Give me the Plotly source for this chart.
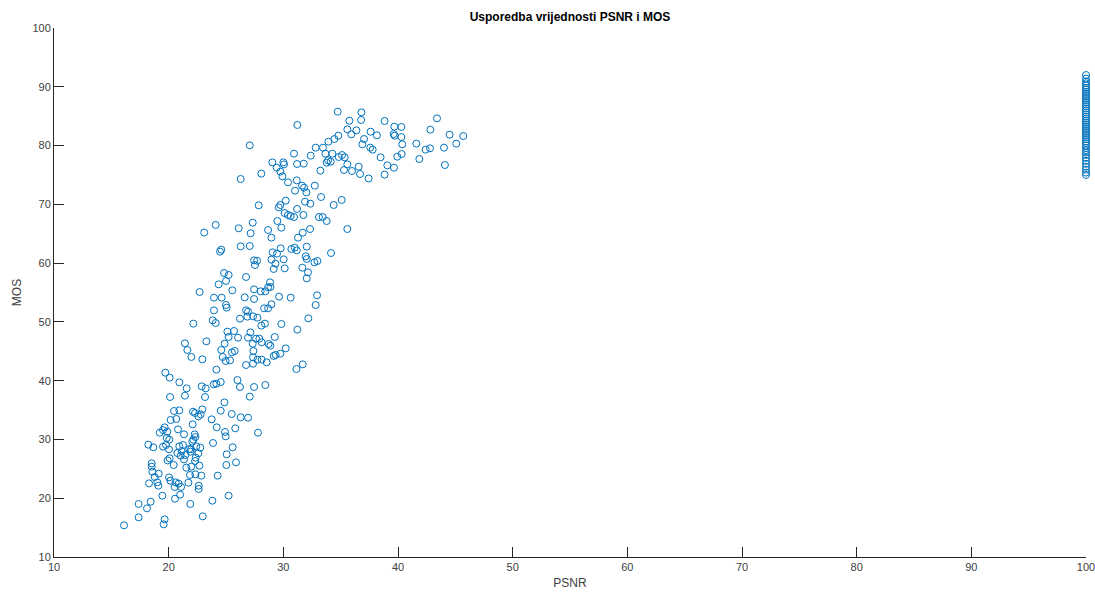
import plotly.graph_objects as go

# ---- data (PSNR, MOS), grouped by region ----
psnr_top = [38.83, 37.61, 38.16, 39.68, 40.29, 39.62, 39.71, 40.29, 40.37, 37.58,
            37.79, 38.48, 39.07, 39.65, 38.83, 37.44, 39.94, 40.32, 41.60, 41.86,
            42.41, 42.79, 43.40, 42.82, 44.50, 45.69, 45.08, 44.01, 44.09]
mos_top = [84.18, 82.36, 81.74, 83.21, 83.16, 81.96, 81.68, 81.45, 80.21, 79.64,
           79.30, 78.00, 76.63, 76.24, 75.05, 74.40, 78.11, 78.56, 80.32, 77.71,
           79.30, 79.53, 84.63, 82.70, 81.85, 81.62, 80.32, 79.64, 76.69]

psnr_upper = [34.74, 36.81, 35.76, 36.78, 31.22, 35.58, 36.37, 35.93, 37.04, 36.89,
              27.07, 34.80, 34.45, 33.93, 33.46, 32.82, 33.67, 34.28, 35.12, 35.35,
              34.83, 33.90, 34.13, 33.78, 35.58, 36.57, 35.29, 35.99, 36.69, 32.39,
              33.23, 30.93, 31.78, 31.20, 29.04, 29.42, 30.00, 30.06, 29.74, 29.92,
              30.41, 28.08, 26.28, 31.17, 31.63, 31.81, 32.01, 32.74, 31.02, 33.29,
              30.21, 29.74, 29.60, 31.89, 32.36, 31.20, 30.12, 30.41, 30.64, 30.93,
              31.75, 34.39, 35.09, 33.11, 33.43, 33.78, 27.85, 29.48, 29.83, 27.33,
              28.67, 27.15, 28.96, 26.11, 32.33, 31.69, 31.28, 35.58, 24.10, 23.10]
mos_upper = [85.76, 85.65, 84.23, 84.35, 83.50, 82.76, 82.59, 81.91, 81.11, 80.21,
             80.04, 81.68, 81.11, 80.66, 79.64, 79.64, 78.62, 78.62, 78.39, 78.00,
             78.05, 77.49, 77.26, 77.09, 76.80, 76.41, 75.84, 75.67, 75.16, 78.28,
             75.73, 78.62, 76.92, 76.86, 77.14, 76.24, 77.14, 76.80, 75.56, 74.76,
             73.74, 75.22, 74.31, 74.08, 73.17, 72.83, 72.04, 73.17, 72.32, 71.25,
             70.62, 69.89, 69.49, 70.45, 70.11, 69.21, 68.52, 68.18, 68.01, 67.84,
             68.18, 69.89, 70.74, 67.84, 67.84, 67.16, 69.83, 67.16, 66.03, 66.88,
             65.63, 65.07, 64.33, 65.92, 65.80, 65.18, 64.33, 65.80, 66.50, 65.20]

psnr_mid = [26.28, 27.07, 29.07, 29.45, 29.77, 30.70, 30.99, 31.17, 32.04, 31.95,
            32.04, 32.71, 32.97, 34.16, 31.66, 32.15, 32.04, 27.45, 27.71, 27.53,
            28.96, 29.16, 29.31, 30.12, 30.03, 26.75, 28.84, 28.87, 28.67, 27.45,
            28.03, 28.43, 26.63, 27.45, 29.63, 30.64, 32.94, 32.82, 28.96, 28.32,
            28.67, 26.75, 26.92, 26.86, 27.36, 27.74, 26.22, 28.08, 28.40, 29.83,
            31.22, 32.18, 27.13, 26.92, 27.62, 27.91, 26.05, 27.33, 28.11, 29.25,
            28.72, 28.87, 30.21, 29.74, 29.16, 29.33, 27.39, 27.36, 27.74, 28.11,
            27.36, 28.55, 26.75, 31.14, 31.69, 26.00, 26.22, 27.45, 28.43]
mos_mid = [62.85, 62.91, 61.83, 61.61, 62.51, 62.40, 62.63, 62.17, 62.80, 61.15,
           60.70, 60.13, 60.36, 61.72, 59.22, 58.43, 57.41, 60.47, 60.41, 59.68,
           60.58, 59.00, 59.90, 59.11, 60.64, 57.64, 56.73, 55.93, 55.88, 55.54,
           55.20, 55.20, 54.18, 53.89, 54.29, 54.12, 54.52, 52.87, 52.99, 52.31,
           52.31, 51.97, 51.74, 50.89, 50.94, 50.72, 50.55, 49.36, 49.70, 49.64,
           48.68, 50.60, 48.22, 47.31, 47.14, 47.14, 47.31, 46.29, 46.52, 47.43,
           46.24, 45.95, 45.50, 44.59, 44.20, 44.37, 45.05, 43.97, 43.57, 43.57,
           42.89, 43.12, 42.66, 41.98, 42.78, 40.10, 38.92, 38.92, 39.26]

psnr_left = [24.59, 24.48, 24.83, 25.23, 25.00, 24.36, 25.55, 22.70, 23.95, 24.62,
             25.00, 25.06, 23.95, 23.84, 24.10, 22.15, 25.12, 25.70, 25.23, 23.29,
             21.42, 21.63, 21.98, 24.88, 24.59, 24.71, 24.97, 25.35, 25.52, 25.76,
             22.94, 24.16, 19.71, 20.09, 20.93, 21.57, 22.88, 23.23, 23.93, 24.16,
             24.54]
mos_left = [62.29, 61.95, 58.32, 57.98, 56.96, 56.39, 55.37, 55.08, 54.12, 54.12,
            52.87, 52.42, 51.96, 50.26, 49.81, 49.70, 48.34, 48.45, 47.43, 46.69,
            46.35, 45.22, 44.03, 46.29, 45.22, 44.03, 43.35, 43.46, 44.82, 45.05,
            43.63, 41.87, 41.36, 40.51, 39.72, 38.69, 39.03, 38.69, 39.38, 39.49,
            39.77]

psnr_low = [20.12, 21.42, 23.17, 24.86, 25.50, 20.47, 20.93, 22.12, 22.30, 22.94,
            22.79, 22.59, 23.75, 24.54, 20.17, 20.67, 22.09, 19.65, 19.51, 19.88,
            20.81, 21.34, 19.22, 24.19, 24.91, 24.97, 25.81, 22.27, 22.33, 22.15,
            22.06, 19.83, 20.06, 19.51, 18.23, 18.66, 19.77, 20.03, 20.93, 21.25,
            21.95, 21.80, 21.13, 20.76, 21.05, 21.45, 21.92, 22.41, 22.76, 22.59,
            22.36, 21.34, 22.30, 21.98, 22.68, 23.87, 25.58, 25.06, 25.87, 25.03,
            19.91, 20.09, 20.44, 18.52, 18.52, 18.58, 18.78, 19.13, 18.29, 19.01,
            19.10, 20.03, 20.15, 20.61, 20.87, 21.08, 20.52, 21.72, 22.62, 22.62,
            21.54, 21.86, 22.33, 22.85, 24.27, 19.45, 21.00, 20.55, 21.89, 23.81,
            25.23, 17.38, 18.43, 18.11, 17.38, 19.65, 19.56, 16.11, 22.97, 27.07,
            26.28, 26.92, 27.79]
mos_low = [37.22, 37.45, 37.22, 36.31, 34.33, 34.84, 34.95, 34.72, 34.50, 35.12,
           34.27, 33.93, 33.42, 34.89, 33.31, 33.48, 32.57, 32.06, 31.60, 31.32,
           31.72, 30.87, 31.15, 32.06, 31.27, 30.53, 31.89, 30.87, 30.41, 29.96,
           29.62, 30.24, 29.96, 28.77, 29.11, 28.66, 29.05, 28.32, 28.83, 29.05,
           28.32, 28.37, 28.03, 27.69, 27.24, 27.35, 27.92, 28.83, 28.60, 27.64,
           26.90, 26.61, 26.33, 25.37, 25.54, 29.39, 28.66, 27.47, 26.10, 25.65,
           26.44, 26.79, 25.65, 25.93, 25.37, 24.52, 23.61, 24.18, 22.53, 22.70,
           22.13, 23.55, 22.99, 22.70, 22.48, 21.91, 21.91, 22.64, 22.13, 21.57,
           25.20, 23.95, 24.06, 23.84, 23.84, 20.43, 20.60, 19.92, 19.02, 19.58,
           20.43, 19.02, 19.41, 18.28, 16.75, 16.41, 15.56, 15.39, 16.92, 37.28,
           33.76, 33.70, 31.15]

# uncompressed references (PSNR capped at 100)
mos_ref = [92.0, 91.4, 90.9, 90.6, 90.2, 89.8, 89.5, 89.1, 88.8, 88.4,
           88.1, 87.7, 87.4, 87.0, 86.7, 86.3, 86.0, 85.6, 85.3, 84.9,
           84.6, 84.2, 83.9, 83.5, 83.2, 82.8, 82.5, 82.1, 81.8, 81.4,
           81.1, 80.7, 80.4, 80.0, 79.6, 79.2, 78.8, 78.4, 77.9, 77.4,
           76.9, 76.4, 75.9, 75.4, 75.0]
psnr_ref = [100.0] * len(mos_ref)

x_ticks = [10, 20, 30, 40, 50, 60, 70, 80, 90, 100]
y_ticks = [10, 20, 30, 40, 50, 60, 70, 80, 90, 100]

psnr = psnr_top + psnr_upper + psnr_mid + psnr_left + psnr_low + psnr_ref
mos = mos_top + mos_upper + mos_mid + mos_left + mos_low + mos_ref

axis_col = "#262626"
fnt = "Liberation Sans, Arial, Helvetica, sans-serif"

fig = go.Figure(go.Scatter(
    x=psnr, y=mos, mode="markers", cliponaxis=False,
    marker=dict(symbol="circle-open", size=7, color="#0072BD",
                line=dict(width=1, color="#0072BD")),
    hoverinfo="x+y",
))

fig.update_layout(
    width=1095, height=594,
    margin=dict(l=54, r=9, t=28, b=37),
    plot_bgcolor="white", paper_bgcolor="white",
    showlegend=False,
    font=dict(family=fnt, color=axis_col, size=11),
    title=dict(text="<b>Usporedba vrijednosti PSNR i MOS</b>",
               x=0.5, xref="paper", xanchor="center",
               y=1 - 17 / 594, yref="container", yanchor="middle",
               font=dict(size=12, color="#000000", family=fnt)),
    xaxis=dict(range=[10, 100], tickvals=x_ticks, ticktext=[str(v) for v in x_ticks],
               ticks="inside", ticklen=10, tickwidth=1, tickcolor=axis_col,
               showline=True, linecolor=axis_col, linewidth=1, mirror=False,
               showgrid=False, zeroline=False, automargin=False,
               ticklabeloverflow="allow",
               tickfont=dict(size=11, color="#404040"),
               title=dict(text="PSNR", standoff=6, font=dict(size=12, color="#404040"))),
    yaxis=dict(range=[10, 100], tickvals=y_ticks, ticktext=[str(v) for v in y_ticks],
               ticks="inside", ticklen=10, tickwidth=1, tickcolor=axis_col,
               showline=True, linecolor=axis_col, linewidth=1, mirror=False,
               showgrid=False, zeroline=False, automargin=False,
               ticklabeloverflow="allow",
               tickfont=dict(size=11, color="#404040"),
               title=dict(text="MOS", standoff=8, font=dict(size=12, color="#404040"))),
)

fig.write_html("out.html",
               config={"displayModeBar": False},
               post_script="document.body.style.margin='0';document.body.style.padding='0';")
